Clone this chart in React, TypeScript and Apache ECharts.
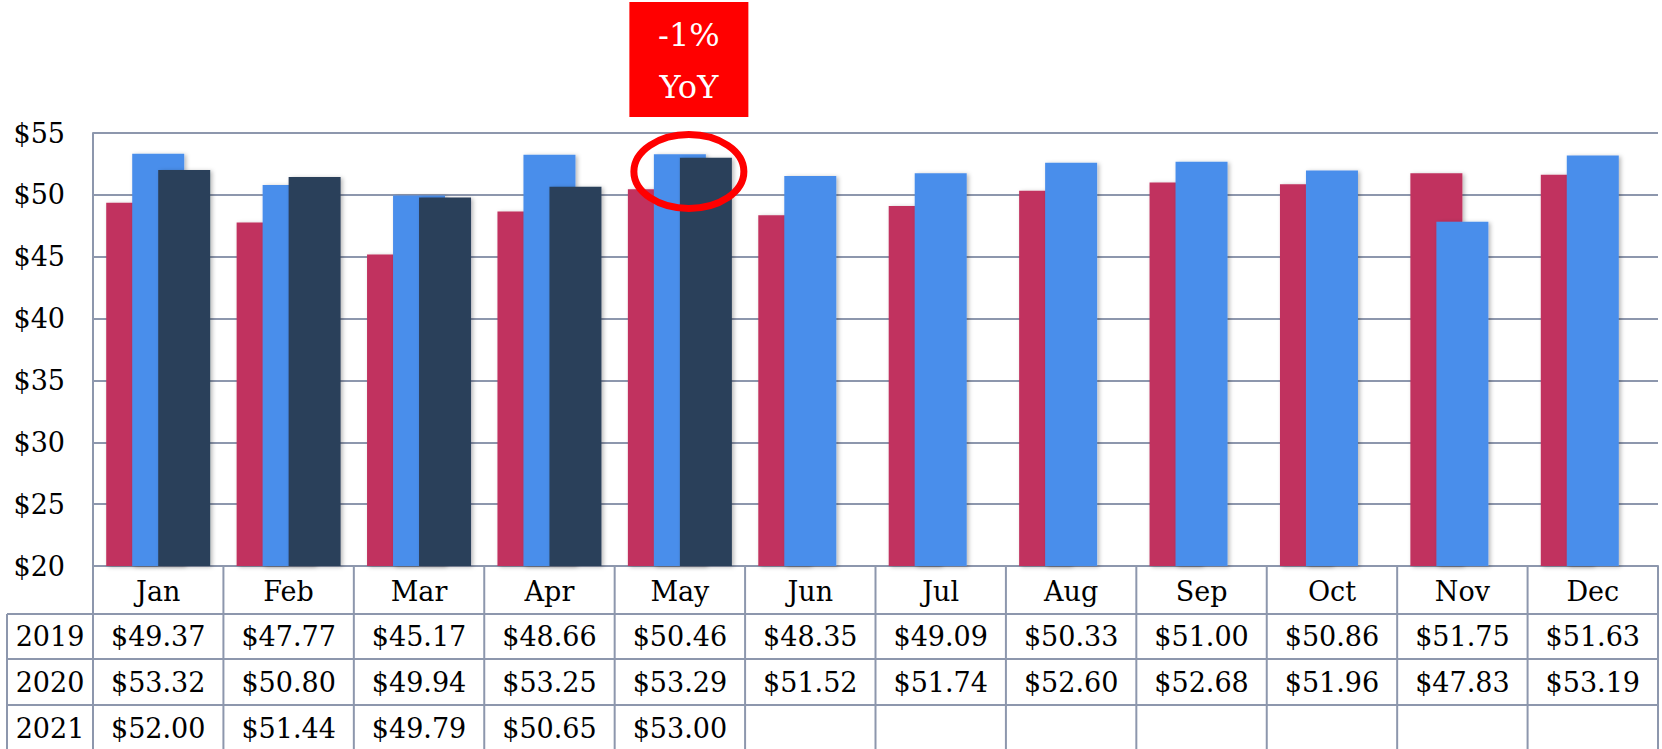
import React, { useEffect, useRef } from "react";
import * as echarts from "echarts";

const months = ["Jan", "Feb", "Mar", "Apr", "May", "Jun", "Jul", "Aug", "Sep", "Oct", "Nov", "Dec"];
const years = ["2019", "2020", "2021"];
const y2019 = [49.37, 47.77, 45.17, 48.66, 50.46, 48.35, 49.09, 50.33, 51.0, 50.86, 51.75, 51.63];
const y2020 = [53.32, 50.8, 49.94, 53.25, 53.29, 51.52, 51.74, 52.6, 52.68, 51.96, 47.83, 53.19];
const y2021: (number | null)[] = [52.0, 51.44, 49.79, 50.65, 53.0, null, null, null, null, null, null, null];
const seriesColors = ["#C1335F", "#4A8EEB", "#2A3F5A"];
const yMin = 20;
const yMax = 55;
const yStep = 5;
const annotationMonth = "May";
const annotationLines = ["-1%", "YoY"];

const W = 1662;
const H = 749;
const GRID_LEFT = 93;
const GRID_RIGHT = 4;
const GRID_TOP = 133;
const GRID_BOTTOM_Y = 566;
const LINE_COLOR = "#8D97AD";
const FONT = '"DejaVu Serif", "Liberation Serif", serif';

export default function App() {
  const ref = useRef<HTMLDivElement>(null);

  useEffect(() => {
    if (!ref.current) return;
    const chart = echarts.init(ref.current, undefined, { renderer: "svg" });
    const data = [y2019, y2020, y2021];

    chart.setOption({
      animation: false,
      backgroundColor: "#ffffff",
      grid: {
        left: GRID_LEFT,
        right: GRID_RIGHT,
        top: GRID_TOP,
        bottom: H - GRID_BOTTOM_Y,
        containLabel: false,
        outerBoundsMode: "none",
      },
      xAxis: {
        type: "category",
        data: months,
        axisTick: { show: false },
        axisLine: { show: true, lineStyle: { color: LINE_COLOR, width: 2 } },
        axisLabel: {
          show: true,
          margin: 25,
          verticalAlign: "middle",
          fontFamily: FONT,
          fontSize: 27,
          color: "#000",
        },
        splitLine: { show: false },
      },
      yAxis: {
        type: "value",
        min: yMin,
        max: yMax,
        interval: yStep,
        axisLine: { show: true, lineStyle: { color: LINE_COLOR, width: 2 } },
        axisTick: { show: false },
        splitLine: { show: true, lineStyle: { color: LINE_COLOR, width: 2 } },
        axisLabel: {
          margin: 28,
          fontFamily: FONT,
          fontSize: 27,
          color: "#000",
          padding: [6, 0, 0, 0],
          formatter: (v: number) => "$" + v,
        },
      },
      series: years.map((y, i) => ({
        name: y,
        type: "bar",
        data: data[i].map((v) => (v == null ? "-" : v)),
        barWidth: 52,
        barGap: "-50%",
        itemStyle: {
          color: seriesColors[i],
          shadowBlur: 4,
          shadowColor: "rgba(0,0,0,0.28)",
          shadowOffsetX: 2,
          shadowOffsetY: 1,
        },
      })),
    });

    // Build table and annotation graphics based on axis geometry
    const colW = (W - GRID_LEFT - GRID_RIGHT) / months.length;
    const tableLeft = 7;
    const rowTops = [GRID_BOTTOM_Y, 614, 659, 705, 751];
    const tableRight = W - GRID_RIGHT;
    const els: any[] = [];
    const lineStyle = { stroke: LINE_COLOR, lineWidth: 2 };
    // horizontal lines
    els.push({ type: "line", shape: { x1: GRID_LEFT, y1: rowTops[0], x2: tableRight, y2: rowTops[0] }, style: lineStyle, silent: true });
    for (let r = 1; r < rowTops.length; r++) {
      els.push({ type: "line", shape: { x1: tableLeft, y1: rowTops[r], x2: tableRight, y2: rowTops[r] }, style: lineStyle, silent: true });
    }
    // vertical lines
    for (let c = 0; c <= months.length; c++) {
      const x = GRID_LEFT + c * colW;
      els.push({ type: "line", shape: { x1: x, y1: rowTops[0], x2: x, y2: H }, style: lineStyle, silent: true });
    }
    els.push({ type: "line", shape: { x1: tableLeft, y1: rowTops[1], x2: tableLeft, y2: H }, style: lineStyle, silent: true });
    // row labels and values
    years.forEach((y, r) => {
      const cy = (rowTops[r + 1] + rowTops[r + 2]) / 2;
      els.push({
        type: "text",
        x: (tableLeft + GRID_LEFT) / 2,
        y: cy,
        silent: true,
        style: { text: y, font: `27px ${FONT}`, fill: "#000", align: "center", verticalAlign: "middle" },
      });
      data[r].forEach((v, c) => {
        if (v == null) return;
        const p = chart.convertToPixel({ xAxisIndex: 0 }, months[c]) as number;
        els.push({
          type: "text",
          x: p,
          y: cy,
          silent: true,
          style: { text: "$" + v.toFixed(2), font: `27px ${FONT}`, fill: "#000", align: "center", verticalAlign: "middle" },
        });
      });
    });

    // annotation
    const ax = chart.convertToPixel({ xAxisIndex: 0 }, annotationMonth) as number;
    const acx = ax + 9;
    els.push({
      type: "ellipse",
      shape: { cx: acx, cy: 171.5, rx: 55, ry: 37 },
      style: { fill: "none", stroke: "#FF0000", lineWidth: 7 },
      silent: true,
      z: 100,
    });
    els.push({
      type: "rect",
      shape: { x: acx - 59.5, y: 2, width: 119, height: 115 },
      style: { fill: "#FF0000" },
      silent: true,
      z: 100,
    });
    els.push({
      type: "text",
      x: acx,
      y: 35,
      silent: true,
      z: 101,
      style: { text: annotationLines[0], font: `32px ${FONT}`, fill: "#fff", align: "center", verticalAlign: "middle" },
    });
    els.push({
      type: "text",
      x: acx,
      y: 87,
      silent: true,
      z: 101,
      style: { text: annotationLines[1], font: `32px ${FONT}`, fill: "#fff", align: "center", verticalAlign: "middle" },
    });

    chart.setOption({ graphic: { elements: els } });

    return () => chart.dispose();
  }, []);

  return (
    <div
      ref={ref}
      style={{ position: "absolute", left: 0, top: 0, width: W, height: H, background: "#fff" }}
    />
  );
}
